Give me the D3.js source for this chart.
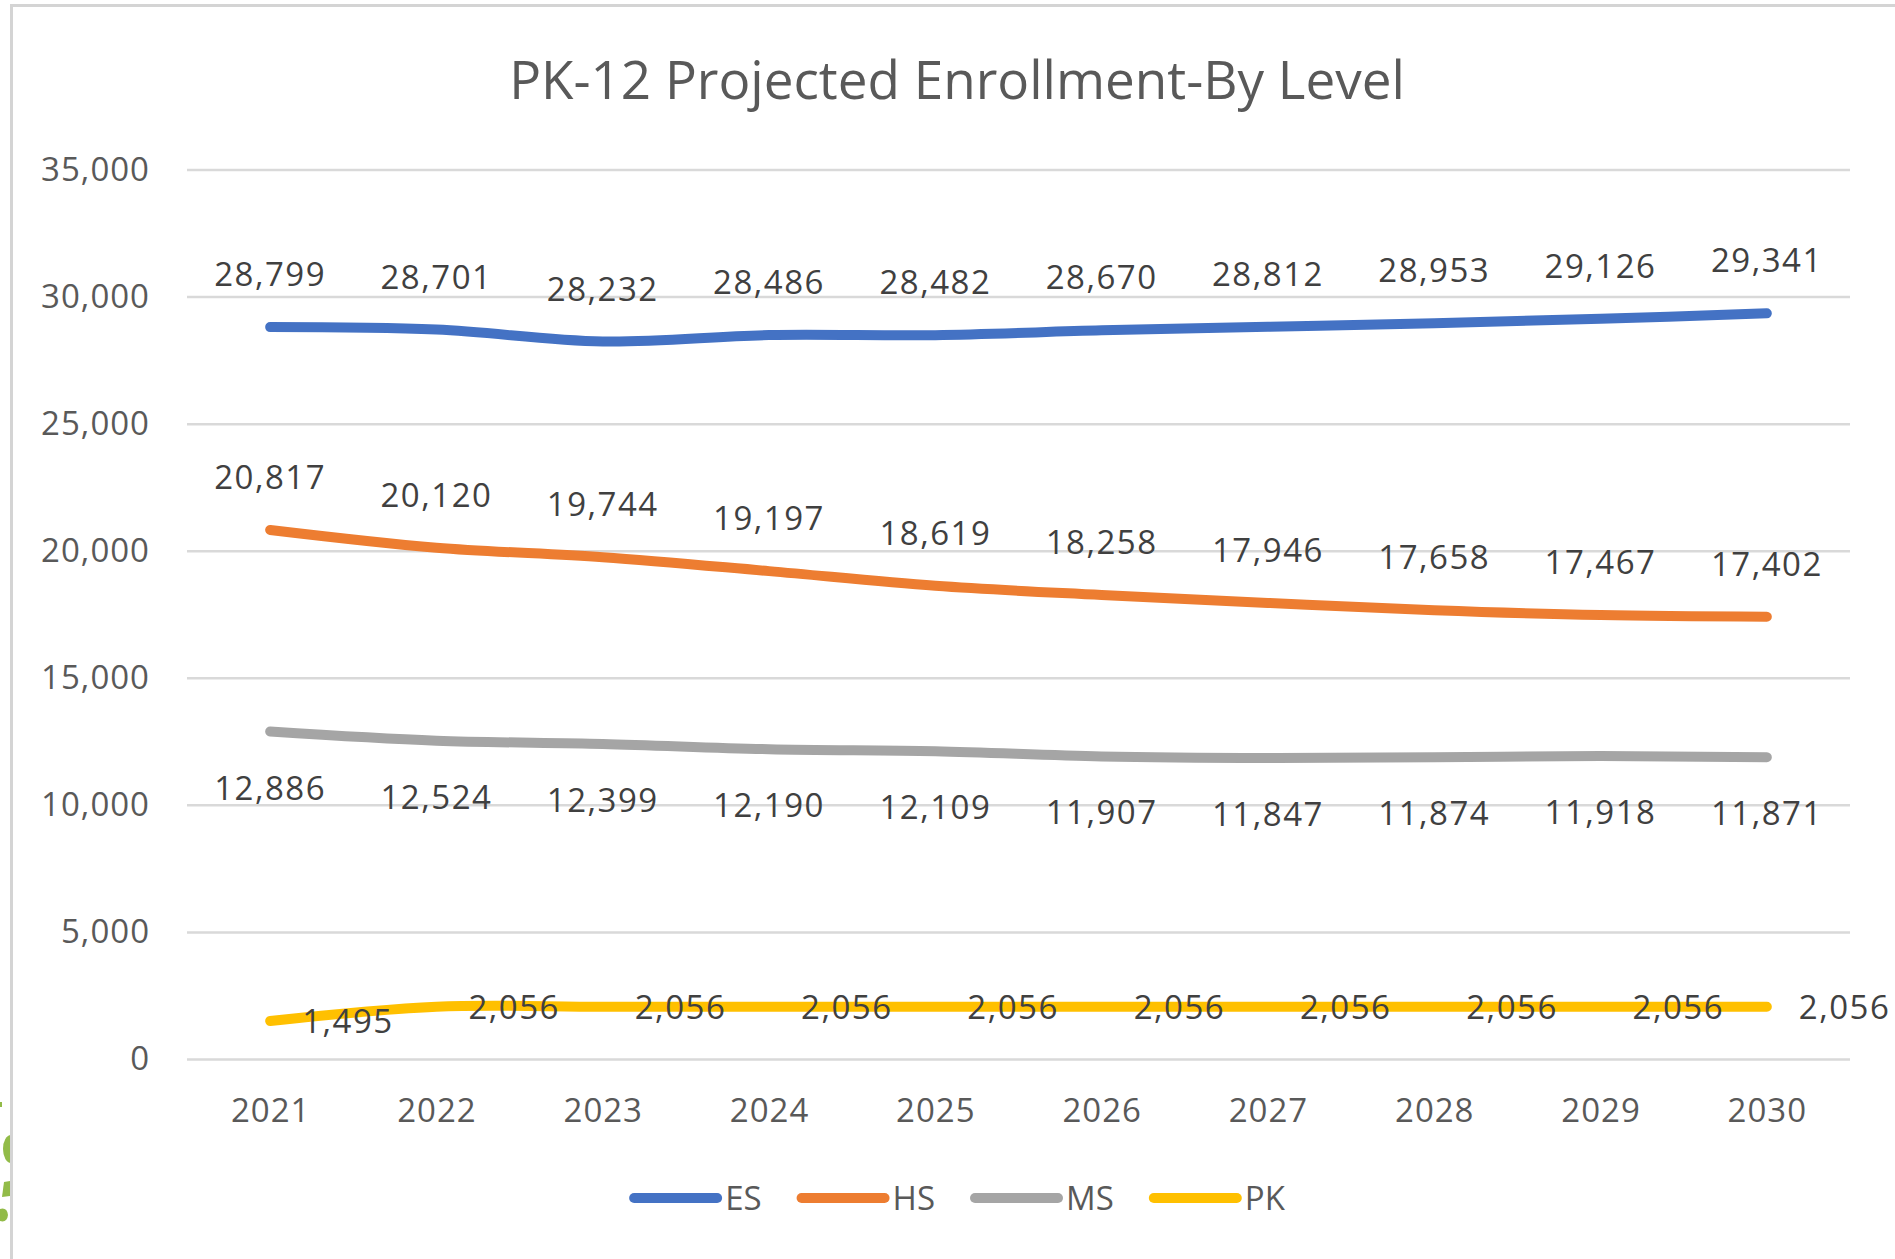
<!DOCTYPE html>
<html>
<head>
<meta charset="utf-8">
<script src="https://cdn.jsdelivr.net/npm/d3@7"></script>
<style>
  html, body { margin: 0; padding: 0; background: #fff; }
  svg { display: block; }
</style>
</head>
<body>
<svg id="chart"></svg>
<script>
// chart data
const years = ['2021', '2022', '2023', '2024', '2025', '2026', '2027', '2028', '2029', '2030'];
const esValues = [28799, 28701, 28232, 28486, 28482, 28670, 28812, 28953, 29126, 29341];
const hsValues = [20817, 20120, 19744, 19197, 18619, 18258, 17946, 17658, 17467, 17402];
const msValues = [12886, 12524, 12399, 12190, 12109, 11907, 11847, 11874, 11918, 11871];
const pkValues = [1495, 2056, 2056, 2056, 2056, 2056, 2056, 2056, 2056, 2056];
const seriesNames = ['ES', 'HS', 'MS', 'PK'];
const yTicks = [0, 5000, 10000, 15000, 20000, 25000, 30000, 35000];
const title = 'PK-12 Projected Enrollment-By Level';

const width = 1895, height = 1259;
const colors = { ES: '#4472C4', HS: '#ED7D31', MS: '#A5A5A5', PK: '#FFC000' };
// where Excel put each series' data labels
const labelPos = { ES: 'above', HS: 'above', MS: 'below', PK: 'right' };
const values = { ES: esValues, HS: hsValues, MS: msValues, PK: pkValues };

const font = "'Open Sans', 'Noto Sans', sans-serif";
const fmt = d3.format(',');

const svg = d3.select('#chart')
    .attr('width', width)
    .attr('height', height);

// bit of a green logo peeking in at the left edge
const logo = svg.append('g').attr('fill', '#92BB48');
logo.append('ellipse').attr('cx', 11).attr('cy', 1149).attr('rx', 8).attr('ry', 14);
logo.append('path').attr('d', 'M4,1182 L10,1181 L10,1196 L2,1197 Z');
logo.append('path').attr('d', 'M0,1209 Q7,1207 8,1215 Q7,1223 0,1221 Z');
logo.append('rect').attr('x', 0).attr('y', 1102).attr('width', 2).attr('height', 5);

// chart area + border (top and left are visible, the rest is cropped off)
svg.append('rect')
    .attr('x', 11).attr('y', 5)
    .attr('width', width).attr('height', height)
    .attr('fill', '#fff');
svg.append('path')
    .attr('d', `M11.5,${height} V5.5 H${width}`)
    .attr('fill', 'none')
    .attr('stroke', '#D4D4D4')
    .attr('stroke-width', 3);

const margin = { top: 169.5, right: 45, bottom: 200, left: 187 };
const x = d3.scalePoint()
    .domain(years)
    .range([margin.left, width - margin.right])
    .padding(0.5);
const y = d3.scaleLinear()
    .domain([0, 35000])
    .range([height - margin.bottom, margin.top]);

// title
svg.append('text')
    .attr('x', 957)
    .attr('y', 99)
    .attr('text-anchor', 'middle')
    .attr('font-family', font)
    .attr('font-size', '53px')
    .attr('fill', '#595959')
    .text(title);

// gridlines
const yAxis = d3.axisLeft(y)
    .tickValues(yTicks)
    .tickSize(-(x.range()[1] - x.range()[0]))
    .tickPadding(37)
    .tickFormat(fmt);

const gy = svg.append('g')
    .attr('transform', `translate(${margin.left},0)`)
    .call(yAxis);
gy.select('.domain').remove();
gy.selectAll('.tick line')
    .attr('stroke', '#D9D9D9')
    .attr('stroke-width', 2.5);
gy.selectAll('.tick text')
    .attr('font-family', font)
    .attr('font-size', '33px')
    .attr('letter-spacing', '1px')
    .attr('fill', '#595959');

// category axis labels
const xAxis = d3.axisBottom(x)
    .tickSize(0)
    .tickPadding(0);
const gx = svg.append('g')
    .attr('transform', `translate(0,${y(0)})`)
    .call(xAxis);
gx.select('.domain').remove();
gx.selectAll('.tick text')
    .attr('dy', null)
    .attr('y', 63)
    .attr('font-family', font)
    .attr('font-size', '33px')
    .attr('letter-spacing', '1px')
    .attr('fill', '#595959');

// smoothed lines like Excel
const line = d3.line()
    .x((d, i) => x(years[i]))
    .y(d => y(d))
    .curve(d3.curveCatmullRom.alpha(0));

svg.append('g')
    .selectAll('path')
    .data(seriesNames)
    .join('path')
    .attr('d', s => line(values[s]))
    .attr('fill', 'none')
    .attr('stroke', s => colors[s])
    .attr('stroke-width', 10)
    .attr('stroke-linecap', 'round')
    .attr('stroke-linejoin', 'round');

// data labels
const labels = svg.append('g')
    .attr('font-family', font)
    .attr('font-size', '33px')
    .attr('letter-spacing', '1.5px')
    .attr('fill', '#404040');

seriesNames.forEach(s => {
    const pos = labelPos[s];
    labels.append('g')
        .selectAll('text')
        .data(values[s])
        .join('text')
        .attr('x', (d, i) => pos == 'right' ? x(years[i]) + 32 : x(years[i]))
        .attr('y', d => {
            if (pos == 'above') return y(d) - 41;
            if (pos == 'below') return y(d) + 68;
            return y(d) + 12;
        })
        .attr('text-anchor', pos == 'right' ? 'start' : 'middle')
        .text(d => fmt(d));
});

// legend
const legend = svg.append('g')
    .attr('font-family', font)
    .attr('font-size', '33px')
    .attr('fill', '#595959');

const sampleLen = 93, gapText = 3, gapItem = 35;
const items = legend.selectAll('g')
    .data(seriesNames)
    .join('g');
items.append('line')
    .attr('x1', 5).attr('x2', sampleLen - 5)
    .attr('y1', 0).attr('y2', 0)
    .attr('stroke', s => colors[s])
    .attr('stroke-width', 10)
    .attr('stroke-linecap', 'round');
items.append('text')
    .attr('x', sampleLen + gapText)
    .attr('y', 12)
    .text(s => s);

let cursor = 0;
const offsets = [];
items.each(function() {
    offsets.push(cursor);
    cursor += sampleLen + gapText + this.querySelector('text').getComputedTextLength() + gapItem;
});
const legendWidth = cursor - gapItem;
items.attr('transform', (s, i) => `translate(${offsets[i]},0)`);
legend.attr('transform', `translate(${957 - legendWidth / 2},1198)`);
</script>
</body>
</html>
